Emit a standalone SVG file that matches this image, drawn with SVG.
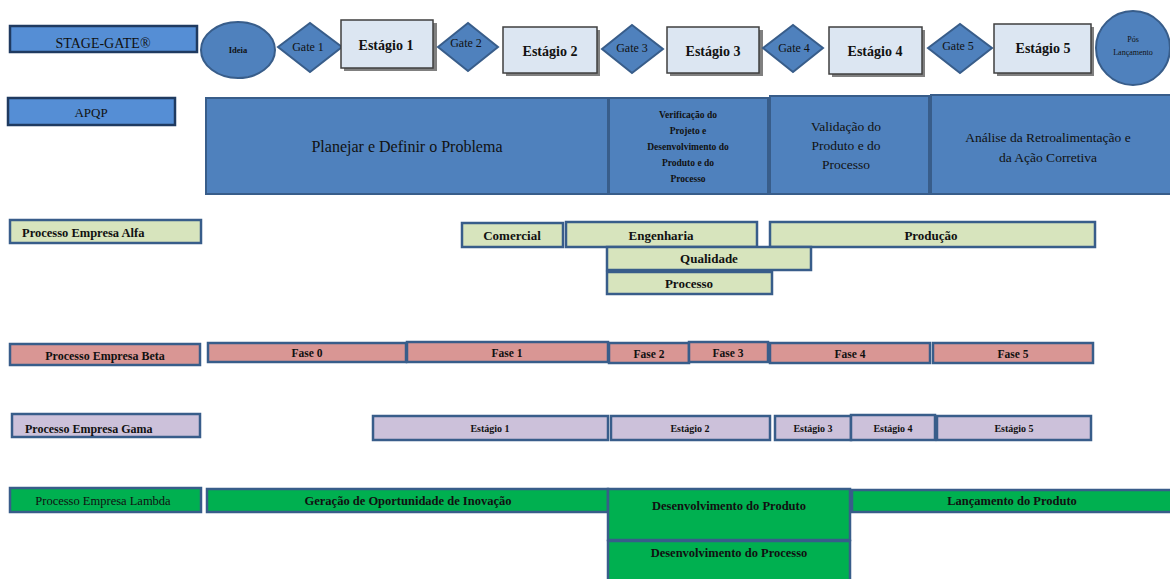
<svg xmlns="http://www.w3.org/2000/svg" width="1170" height="579" viewBox="0 0 1170 579">
  <style>
    text { font-family: "Liberation Serif", "DejaVu Serif", serif; font-weight: normal; fill: #111; text-anchor: middle; }
    .b { font-weight: bold; }
    .lbl { fill: #558ED5; stroke: #1F3A60; stroke-width: 2.5; }
    .blue { fill: #4F81BD; stroke: #385D8A; stroke-width: 2; }
    .stage { fill: #DCE6F2; stroke: #3F3F3F; stroke-width: 1.5; }
    .shadow { fill: #808080; }
    .alfa { fill: #D7E4BD; stroke: #385D8A; stroke-width: 2.5; }
    .beta { fill: #D99694; stroke: #385D8A; stroke-width: 2.5; }
    .gama { fill: #CCC1DA; stroke: #385D8A; stroke-width: 2.5; }
    .lambda { fill: #00B050; stroke: #385D8A; stroke-width: 2.5; }
  </style>
  <rect width="1170" height="579" fill="#FFFFFF"/>

  <!-- Stage-Gate row -->
  <g id="stagegate-label">
    <rect class="lbl" x="10" y="26" width="187" height="26"/>
    <text x="103" y="48" font-size="14">STAGE-GATE®</text>
  </g>
  <g id="ideia">
    <ellipse class="blue" cx="238" cy="50" rx="37" ry="28"/>
    <text class="b" x="238" y="53" font-size="8.5">Ideia</text>
  </g>
  <g id="gate1">
    <polygon class="blue" points="278,47 310,23 342,47 310,72"/>
    <text x="308" y="51" font-size="12">Gate 1</text>
  </g>
  <g id="estagio1">
    <rect class="shadow" x="344" y="23" width="93" height="48"/>
    <rect class="stage" x="341" y="20" width="92" height="48"/>
    <text class="b" x="386" y="50" font-size="14">Estágio 1</text>
  </g>
  <g id="gate2">
    <polygon class="blue" points="438,47 468,23 498,47 468,71"/>
    <text x="466" y="47" font-size="12">Gate 2</text>
  </g>
  <g id="estagio2">
    <rect class="shadow" x="506" y="30" width="94" height="46"/>
    <rect class="stage" x="503" y="27" width="94" height="46"/>
    <text class="b" x="550" y="56" font-size="14">Estágio 2</text>
  </g>
  <g id="gate3">
    <polygon class="blue" points="602,49 632,25 663,49 632,73"/>
    <text x="632" y="52" font-size="12">Gate 3</text>
  </g>
  <g id="estagio3">
    <rect class="shadow" x="670" y="30" width="93" height="46"/>
    <rect class="stage" x="667" y="27" width="92" height="46"/>
    <text class="b" x="713" y="56" font-size="14">Estágio 3</text>
  </g>
  <g id="gate4">
    <polygon class="blue" points="763,48 793,25 823,48 793,72"/>
    <text x="794" y="52" font-size="12">Gate 4</text>
  </g>
  <g id="estagio4">
    <rect class="shadow" x="832" y="30" width="93" height="47"/>
    <rect class="stage" x="829" y="27" width="93" height="47"/>
    <text class="b" x="875" y="56" font-size="14">Estágio 4</text>
  </g>
  <g id="gate5">
    <polygon class="blue" points="928,48 960,24 992,48 960,73"/>
    <text x="958" y="50" font-size="12">Gate 5</text>
  </g>
  <g id="estagio5">
    <rect class="shadow" x="997" y="27" width="97" height="49"/>
    <rect class="stage" x="994" y="24" width="97" height="49"/>
    <text class="b" x="1043" y="53" font-size="14">Estágio 5</text>
  </g>
  <g id="pos-lancamento">
    <ellipse class="blue" cx="1133" cy="48" rx="37" ry="37"/>
    <text x="1133" y="42" font-size="8">Pós</text>
    <text x="1133" y="55" font-size="8">Lançamento</text>
  </g>

  <!-- APQP row -->
  <g id="apqp-label">
    <rect class="lbl" x="8" y="98" width="167" height="27"/>
    <text x="91" y="117" font-size="13">APQP</text>
  </g>
  <g id="apqp-planejar">
    <rect class="blue" x="206" y="98" width="402" height="96"/>
    <text x="407" y="152" font-size="16">Planejar e Definir o Problema</text>
  </g>
  <g id="apqp-verificacao">
    <rect class="blue" x="609" y="98" width="159" height="96"/>
    <text class="b" x="688" y="118" font-size="9.5">Verificação do</text>
    <text class="b" x="688" y="134" font-size="9.5">Projeto e</text>
    <text class="b" x="688" y="150" font-size="9.5">Desenvolvimento do</text>
    <text class="b" x="688" y="166" font-size="9.5">Produto e do</text>
    <text class="b" x="688" y="182" font-size="9.5">Processo</text>
  </g>
  <g id="apqp-validacao">
    <rect class="blue" x="770" y="96" width="159" height="98"/>
    <text x="846" y="131" font-size="13.5">Validação do</text>
    <text x="846" y="150" font-size="13.5">Produto e do</text>
    <text x="846" y="169" font-size="13.5">Processo</text>
  </g>
  <g id="apqp-analise">
    <rect class="blue" x="931" y="95" width="241" height="99"/>
    <text x="1048" y="142" font-size="13.5">Análise da Retroalimentação e</text>
    <text x="1048" y="162" font-size="13.5">da Ação Corretiva</text>
  </g>

  <!-- Empresa Alfa -->
  <g id="alfa-label">
    <rect class="alfa" x="10" y="220" width="191" height="23"/>
    <text class="b" x="22" y="237" font-size="12.5" style="text-anchor:start">Processo Empresa Alfa</text>
  </g>
  <g id="alfa-comercial">
    <rect class="alfa" x="462" y="223" width="101" height="24"/>
    <text class="b" x="512" y="240" font-size="13">Comercial</text>
  </g>
  <g id="alfa-engenharia">
    <rect class="alfa" x="566" y="222" width="191" height="25"/>
    <text class="b" x="661" y="240" font-size="13">Engenharia</text>
  </g>
  <g id="alfa-producao">
    <rect class="alfa" x="770" y="222" width="325" height="25"/>
    <text class="b" x="931" y="240" font-size="13">Produção</text>
  </g>
  <g id="alfa-qualidade">
    <rect class="alfa" x="607" y="247" width="204" height="23"/>
    <text class="b" x="709" y="263" font-size="13">Qualidade</text>
  </g>
  <g id="alfa-processo">
    <rect class="alfa" x="607" y="272" width="165" height="22"/>
    <text class="b" x="689" y="288" font-size="13">Processo</text>
  </g>

  <!-- Empresa Beta -->
  <g id="beta-label">
    <rect class="beta" x="10" y="344" width="190" height="21"/>
    <text class="b" x="105" y="360" font-size="12">Processo Empresa Beta</text>
  </g>
  <g id="beta-fase0">
    <rect class="beta" x="208" y="343" width="198" height="19"/>
    <text class="b" x="307" y="357" font-size="11.5">Fase 0</text>
  </g>
  <g id="beta-fase1">
    <rect class="beta" x="407" y="342" width="201" height="20"/>
    <text class="b" x="507" y="357" font-size="11.5">Fase 1</text>
  </g>
  <g id="beta-fase2">
    <rect class="beta" x="609" y="343" width="80" height="20"/>
    <text class="b" x="649" y="358" font-size="11.5">Fase 2</text>
  </g>
  <g id="beta-fase3">
    <rect class="beta" x="689" y="342" width="79" height="20"/>
    <text class="b" x="728" y="357" font-size="11.5">Fase 3</text>
  </g>
  <g id="beta-fase4">
    <rect class="beta" x="770" y="343" width="160" height="20"/>
    <text class="b" x="850" y="358" font-size="11.5">Fase 4</text>
  </g>
  <g id="beta-fase5">
    <rect class="beta" x="933" y="343" width="160" height="20"/>
    <text class="b" x="1013" y="358" font-size="11.5">Fase 5</text>
  </g>

  <!-- Empresa Gama -->
  <g id="gama-label">
    <rect class="gama" x="12" y="414" width="188" height="23"/>
    <text class="b" x="25" y="433" font-size="12" style="text-anchor:start">Processo Empresa Gama</text>
  </g>
  <g id="gama-estagio1">
    <rect class="gama" x="373" y="416" width="235" height="24"/>
    <text class="b" x="490" y="432" font-size="10">Estágio 1</text>
  </g>
  <g id="gama-estagio2">
    <rect class="gama" x="611" y="416" width="159" height="24"/>
    <text class="b" x="690" y="432" font-size="10">Estágio 2</text>
  </g>
  <g id="gama-estagio3">
    <rect class="gama" x="775" y="416" width="76" height="24"/>
    <text class="b" x="813" y="432" font-size="10">Estágio 3</text>
  </g>
  <g id="gama-estagio4">
    <rect class="gama" x="851" y="415" width="84" height="25"/>
    <text class="b" x="893" y="432" font-size="10">Estágio 4</text>
  </g>
  <g id="gama-estagio5">
    <rect class="gama" x="937" y="416" width="154" height="24"/>
    <text class="b" x="1014" y="432" font-size="10">Estágio 5</text>
  </g>

  <!-- Empresa Lambda -->
  <g id="lambda-label">
    <rect class="lambda" x="10" y="488" width="191" height="24"/>
    <text x="103" y="505" font-size="12.5">Processo Empresa Lambda</text>
  </g>
  <g id="lambda-geracao">
    <rect class="lambda" x="207" y="489" width="401" height="23"/>
    <text class="b" x="408" y="505" font-size="12.5">Geração de Oportunidade de Inovação</text>
  </g>
  <g id="lambda-dev-produto">
    <rect class="lambda" x="608" y="489" width="242" height="51"/>
    <text class="b" x="729" y="510" font-size="12.5">Desenvolvimento do Produto</text>
  </g>
  <g id="lambda-dev-processo">
    <rect class="lambda" x="608" y="541" width="242" height="40"/>
    <text class="b" x="729" y="557" font-size="12.5">Desenvolvimento do Processo</text>
  </g>
  <g id="lambda-lancamento">
    <rect class="lambda" x="852" y="490" width="320" height="22"/>
    <text class="b" x="1012" y="505" font-size="12.5">Lançamento do Produto</text>
  </g>
</svg>
